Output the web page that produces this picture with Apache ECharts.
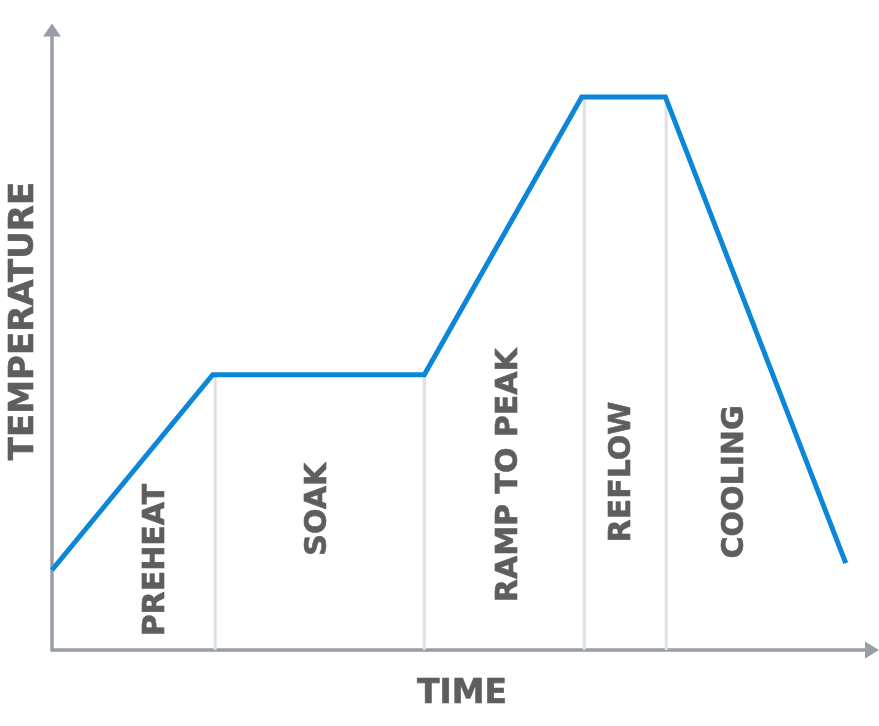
<!DOCTYPE html>
<html><head><meta charset="utf-8">
<script src="https://cdn.jsdelivr.net/npm/echarts@6/dist/echarts.min.js"></script>
<style>html,body{margin:0;padding:0;background:#fff}#c{width:879px;height:726px}</style>
</head><body><div id="c"></div>
<script>
// Reflow profile (arbitrary units: time 0-100, temperature 0-100)
const profileTime = [0, 19.6, 45.4, 64.6, 74.8, 96.8];
const profileTemp = [12.9, 44.4, 44.4, 89.2, 89.2, 14.0];
const boundaryTime = [19.9, 45.4, 64.9, 74.9];
const boundaryTemp = [44.4, 44.4, 89.2, 89.2];
const phaseNames = ['PREHEAT', 'SOAK', 'RAMP TO PEAK', 'REFLOW', 'COOLING'];
const phaseLabelTime = [12.7, 32.5, 55.8, 69.5, 83.3];
const phaseLabelTemp = [14.5, 22.7, 28.2, 28.7, 27.1];
const xAxisTitle = 'TIME';
const yAxisTitle = 'TEMPERATURE';

const chart = echarts.init(document.getElementById('c'));
const font = '"DejaVu Sans", sans-serif';
const series = [];
boundaryTime.forEach((t, i) => {
  series.push({
    type: 'line', data: [[t, 0], [t, boundaryTemp[i]]], symbol: 'none', silent: true,
    lineStyle: { color: '#dde1e7', width: 3 }, z: 1
  });
});
series.push({
  type: 'line', data: profileTime.map((t, i) => [t, profileTemp[i]]), symbol: 'none',
  lineStyle: { color: '#0b86d9', width: 5, join: 'miter' }, z: 3
});
series.push({
  type: 'scatter', symbolSize: 0, z: 4, silent: true,
  data: phaseNames.map((n, i) => ({ value: [phaseLabelTime[i], phaseLabelTemp[i]], name: n })),
  itemStyle: { opacity: 1 },
  label: { show: true, position: 'inside', rotate: 90, formatter: p => p.name,
    color: '#5e5e5e', opacity: 1, fontFamily: font, fontWeight: 'bold', fontSize: 30,
    textBorderColor: '#5e5e5e', textBorderWidth: 0.6 }
});
chart.setOption({
  animation: false,
  grid: { left: 52, right: 7, top: 30, bottom: 76 },
  xAxis: { type: 'value', min: 0, max: 100, splitLine: { show: false },
    axisTick: { show: false }, axisLabel: { show: false },
    axisLine: { lineStyle: { color: '#979ea7', width: 3.5 }, symbol: ['none', 'triangle'], symbolSize: [17, 14] } },
  yAxis: { type: 'value', min: 0, max: 100, splitLine: { show: false },
    axisTick: { show: false }, axisLabel: { show: false },
    axisLine: { lineStyle: { color: '#979ea7', width: 3.5 }, symbol: ['none', 'triangle'], symbolSize: [18, 13] } },
  graphic: [
    { type: 'text', x: 462, y: 678, style: { text: xAxisTitle, fill: '#5e5e5e', stroke: '#5e5e5e', lineWidth: 0.6, font: 'bold 33px ' + font, align: 'center', verticalAlign: 'top' } },
    { type: 'text', x: 7, y: 321, rotation: Math.PI / 2, style: { text: yAxisTitle, fill: '#5e5e5e', stroke: '#5e5e5e', lineWidth: 0.6, font: 'bold 34px ' + font, align: 'center', verticalAlign: 'top' } }
  ],
  series
});
</script></body></html>
